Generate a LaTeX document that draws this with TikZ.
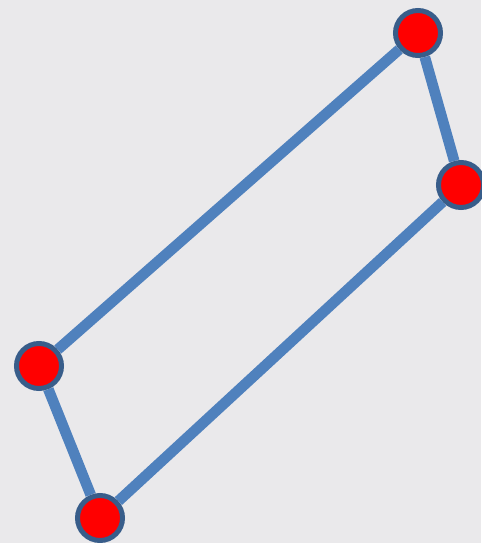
\documentclass[tikz,border=0pt]{standalone}
\usepackage{tikz}
\usepackage{xcolor}
\usetikzlibrary{shapes.geometric, positioning}
\definecolor{quadblue}{RGB}{79, 129, 189}
\definecolor{quadrim}{RGB}{56, 93, 138}
\definecolor{quadred}{RGB}{255, 0, 0}
\definecolor{quadpaper}{RGB}{234, 233, 235}
\tikzstyle{vertex} = [circle, minimum size=1.35cm, inner sep=0pt, draw=quadrim, line width=0.15cm, fill=quadred]
\tikzstyle{edge} = [draw=quadblue, line width=0.32cm]

\begin{document}
\begin{tikzpicture}[x=0.03cm, y=-0.03cm]
                \fill[quadpaper] (0,0) rectangle (481,543);
                \useasboundingbox (0,0) rectangle (481,543);
                \node[vertex] (topv) at (418,33) {};
                \node[vertex] (rightv) at (461,185) {};
                \node[vertex] (leftv) at (39,366) {};
                \node[vertex] (bottomv) at (100,518) {};
                
                \draw[edge] (topv) -- (leftv);
                \draw[edge] (topv) -- (rightv);
                \draw[edge] (rightv) -- (bottomv);
                \draw[edge] (leftv) -- (bottomv);
            \end{tikzpicture}
\end{document}
